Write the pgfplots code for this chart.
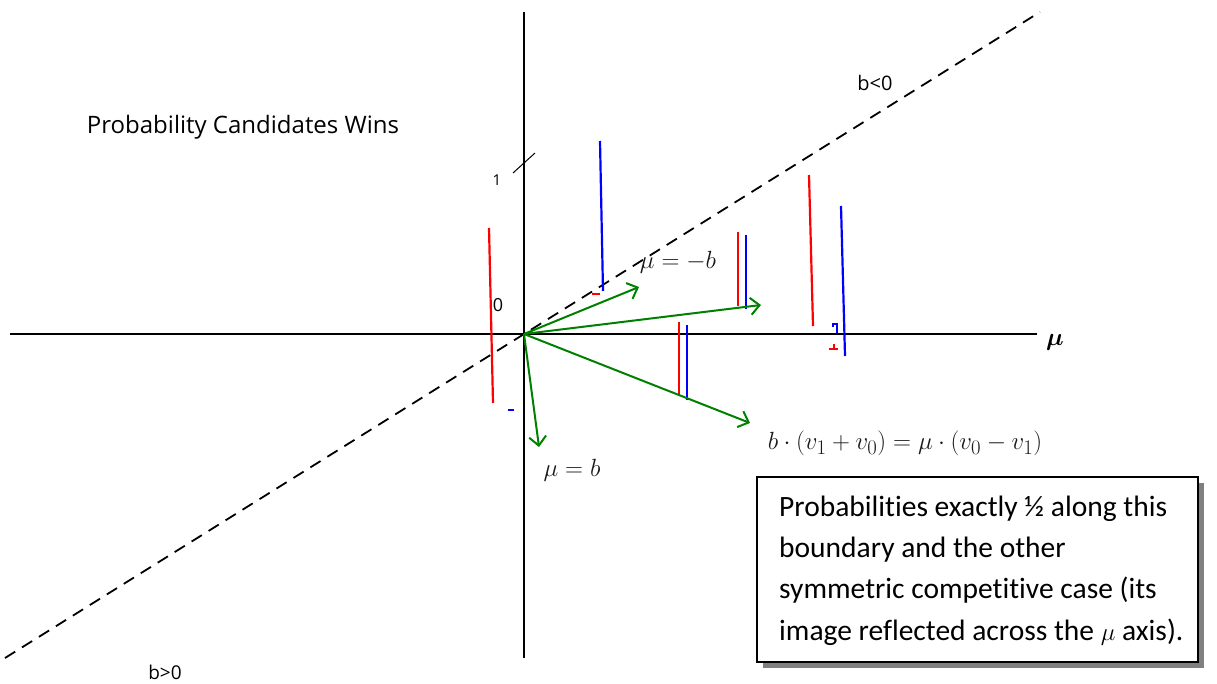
\documentclass[border=0pt]{standalone}
\usepackage{pgfplots}
\pgfplotsset{compat=1.18}
\usepackage{fontspec}
\usepackage{bm}
\usetikzlibrary{arrows.meta}
\newfontfamily\boxfont[Ligatures=NoCommon]{Carlito}
\newfontfamily\labfont{Open Sans}
\definecolor{vgreen}{RGB}{0,128,0}
\definecolor{shadowgray}{RGB}{128,128,128}
\definecolor{mathgray}{RGB}{25,25,25}

\begin{document}
\begin{tikzpicture}
\begin{axis}[
  scale only axis, width=1217pt, height=683pt,
  xmin=0, xmax=1217, ymin=0, ymax=683,
  hide axis, clip=false,
]
% coordinate axes and the boundary line
\addplot[black, line width=2pt] coordinates {(10,349) (1037,349)};
\addplot[black, line width=2pt] coordinates {(524,25) (524,671)};
\addplot[black, line width=1.8pt, dash pattern=on 12pt off 8pt] coordinates {(5,25) (1040,671)};
% unit tick on the vertical axis
\addplot[black, line width=1pt] coordinates {(513,510) (535,530)};

% probability bars
\addplot[red,  line width=2.2pt] coordinates {(489,455) (493,280)};
\addplot[blue, line width=2.2pt] coordinates {(508,273) (514,273)};

\addplot[blue, line width=2.2pt] coordinates {(600,542) (603,392)};
\addplot[red,  line width=2.2pt] coordinates {(592,389) (600,389)};

\addplot[red,  line width=2.2pt] coordinates {(738,451) (738,377)};
\addplot[blue, line width=2.2pt] coordinates {(746,448) (746,374)};

\addplot[red,  line width=2.2pt] coordinates {(679,361) (679,287)};
\addplot[blue, line width=2.2pt] coordinates {(687,358) (687,283)};

\addplot[red,  line width=2.2pt] coordinates {(809,508) (813,357)};
\addplot[blue, line width=2.2pt] coordinates {(841,477) (845,327)};
\addplot[blue, line width=1.6pt] coordinates {(833,356) (833,359) (837,359) (837,350)};
\addplot[red,  line width=1.6pt] coordinates {(829,334) (838,334)};
\addplot[red,  line width=1.6pt] coordinates {(834,334) (834,339)};

% direction arrows from the origin
\addplot[vgreen, line width=2pt, -{Straight Barb[length=9pt,width=17pt,line width=2pt]}] coordinates {(524,349) (639,396)};
\addplot[vgreen, line width=2pt, -{Straight Barb[length=9pt,width=17pt,line width=2pt]}] coordinates {(524,349) (761,378)};
\addplot[vgreen, line width=2pt, -{Straight Barb[length=9pt,width=17pt,line width=2pt]}] coordinates {(524,349) (750,260)};
\addplot[vgreen, line width=2pt, -{Straight Barb[length=9pt,width=17pt,line width=2pt]}] coordinates {(524,349) (539,236)};

% labels
\node[font=\labfont\fontsize{24}{28}\selectfont] at (axis cs:243,556) {Probability Candidates Wins};
\node[font=\labfont\fontsize{15}{18}\selectfont] at (axis cs:497,503) {1};
\node[font=\labfont\fontsize{18}{22}\selectfont] at (axis cs:498,378) {0};
\node[font=\labfont\fontsize{20}{24}\selectfont] at (axis cs:875,600) {b<0};
\node[anchor=base, inner sep=0pt, font=\labfont\fontsize{19}{22}\selectfont] at (axis cs:165,4) {b>0};
\node[font=\fontsize{30}{34}\selectfont] at (axis cs:1055,341) {$\bm{\mu}$};
\node[text=mathgray, font=\fontsize{27}{31}\selectfont] at (axis cs:678,421) {$\mu = -b$};
\node[text=mathgray, font=\fontsize{28}{32}\selectfont] at (axis cs:572,213) {$\mu = b$};
\node[text=mathgray, font=\fontsize{29}{33}\selectfont] at (axis cs:905,240) {$b\cdot(v_1+v_0)=\mu\cdot(v_0-v_1)$};

% note box with its shadow
\addplot[draw=none, fill=shadowgray] coordinates {(763,15) (1204,15) (1204,200) (763,200)} -- cycle;
\addplot[draw=black, line width=1.5pt, fill=white] coordinates {(757,21) (1198,21) (1198,206) (757,206)} -- cycle;
\node[anchor=base west, font=\boxfont\fontsize{29.5}{41}\selectfont, inner sep=0pt] at (axis cs:779,167) {Probabilities exactly ½ along this};
\node[anchor=base west, font=\boxfont\fontsize{29.5}{41}\selectfont, inner sep=0pt] at (axis cs:779,126) {boundary and the other};
\node[anchor=base west, font=\boxfont\fontsize{29.5}{41}\selectfont, inner sep=0pt] at (axis cs:779,85) {symmetric competitive case (its};
\node[anchor=base west, font=\boxfont\fontsize{29.5}{41}\selectfont, inner sep=0pt] at (axis cs:779,43) {image reflected across the $\mu$ axis).};
\end{axis}
% the page is exactly the plotting area
\pgfresetboundingbox
\path (current axis.south west) rectangle (current axis.north east);
\end{tikzpicture}
\end{document}
